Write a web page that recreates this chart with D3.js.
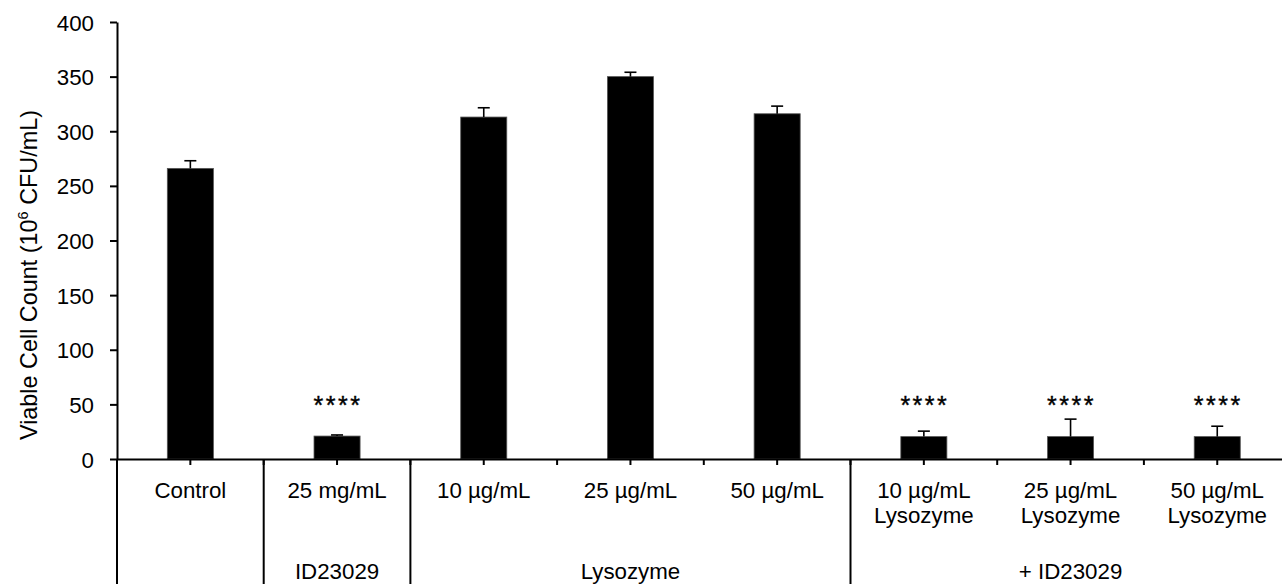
<!DOCTYPE html>
<html>
<head>
<meta charset="utf-8">
<script src="https://cdn.jsdelivr.net/npm/d3@7"></script>
<style>
  html, body { margin: 0; padding: 0; background: #fff; }
  svg { display: block; }
  text { font-family: "Liberation Sans", Arial, sans-serif; fill: #000; }
</style>
</head>
<body>
<svg id="chart" width="1282" height="584"></svg>
<script>
// Treatment categories (two-line labels split on "\n")
const categories = [
  "Control",
  "25 mg/mL",
  "10 µg/mL",
  "25 µg/mL",
  "50 µg/mL",
  "10 µg/mL\nLysozyme",
  "25 µg/mL\nLysozyme",
  "50 µg/mL\nLysozyme"
];
// Mean viable cell count (10^6 CFU/mL) and error (SD)
const means  = [266, 21, 313, 350, 316, 20.5, 20.5, 20.5];
const errors = [7, 1, 8.5, 4, 7, 5, 16, 9.5];
// Significance markers
const stars  = ["", "****", "", "", "", "****", "****", "****"];
// Group row under the category labels
const groupLabels = ["", "ID23029", "Lysozyme", "+ ID23029"];
const groupSpans  = [1, 1, 3, 3];
const yTicks = [0, 50, 100, 150, 200, 250, 300, 350, 400];

const FS = 22.3;
const svg = d3.select("#chart");
const axisX = 117, baseY = 459, topY = 22, bottomY = 584;

const y = d3.scaleLinear().domain([0, 400]).range([baseY, topY]);
const x = d3.scaleBand().domain(categories).range([axisX, 1290.6]).padding(0);
const barW = x.bandwidth() * 0.314;
const cx = c => x(c) + x.bandwidth() / 2;

// Bars
svg.append("g").selectAll("rect")
  .data(categories)
  .join("rect")
  .attr("x", c => cx(c) - barW / 2)
  .attr("width", barW)
  .attr("y", (c, i) => y(means[i]))
  .attr("height", (c, i) => y(0) - y(means[i]))
  .attr("fill", "#000")
  .attr("stroke", "#555")
  .attr("stroke-width", 0.8);

// Error bars (upper whisker only)
const eg = svg.append("g").attr("stroke", "#000").attr("stroke-width", 1.6);
categories.forEach((c, i) => {
  const xc = cx(c), yTop = y(means[i] + errors[i]);
  eg.append("line").attr("x1", xc).attr("x2", xc).attr("y1", y(means[i])).attr("y2", yTop);
  eg.append("line").attr("x1", xc - 6).attr("x2", xc + 6).attr("y1", yTop).attr("y2", yTop);
});

// Significance asterisks
svg.append("g").selectAll("text")
  .data(categories)
  .join("text")
  .attr("x", c => cx(c) + 1)
  .attr("y", y(41.5))
  .attr("text-anchor", "middle")
  .attr("font-size", 25)
  .attr("letter-spacing", 2.5)
  .attr("stroke", "#000")
  .attr("stroke-width", 0.4)
  .text((c, i) => stars[i]);

// Y axis
const yAxis = svg.append("g")
  .attr("transform", `translate(${axisX},0)`)
  .call(d3.axisLeft(y).tickValues(yTicks).tickSize(7).tickSizeOuter(0).tickPadding(16));
yAxis.selectAll("text").attr("font-size", FS).attr("dy", "0.36em")
  .style("font-family", "'Liberation Sans', Arial, sans-serif");
yAxis.selectAll("line, path").attr("stroke", "#000").attr("stroke-width", 2);

// Y axis title
svg.append("text")
  .attr("transform", `translate(37,275) rotate(-90)`)
  .attr("text-anchor", "middle")
  .attr("font-size", 23.4)
  .call(t => {
    t.append("tspan").text("Viable Cell Count (10");
    t.append("tspan").attr("font-size", 14.5).attr("dy", -9).text("6");
    t.append("tspan").attr("dy", 9).text(" CFU/mL)");
  });

// X axis baseline with ticks at category centres
const xAxis = svg.append("g")
  .attr("transform", `translate(0,${baseY})`)
  .call(d3.axisBottom(x).tickSize(6).tickSizeOuter(0).tickFormat(""));
xAxis.selectAll("line, path").attr("stroke", "#000").attr("stroke-width", 2);

// Boundary ticks between neighbouring categories
svg.append("g").selectAll("line")
  .data(categories.slice(1))
  .join("line")
  .attr("x1", c => x(c)).attr("x2", c => x(c))
  .attr("y1", baseY).attr("y2", baseY + 6)
  .attr("stroke", "#000").attr("stroke-width", 2);

// Group separators running down through the label table
let start = 0;
const groups = groupLabels.map((label, i) => {
  const g = { label, first: categories[start], last: categories[start + groupSpans[i] - 1] };
  start += groupSpans[i];
  return g;
});
svg.append("g").selectAll("line")
  .data(groups)
  .join("line")
  .attr("x1", g => x(g.first)).attr("x2", g => x(g.first))
  .attr("y1", baseY).attr("y2", bottomY)
  .attr("stroke", "#000").attr("stroke-width", 2);

// Category labels
const lab = svg.append("g").selectAll("text")
  .data(categories)
  .join("text")
  .attr("x", cx)
  .attr("y", 498)
  .attr("text-anchor", "middle")
  .attr("font-size", FS);
lab.each(function (c) {
  c.split("\n").forEach((line, k) => {
    d3.select(this).append("tspan").attr("x", cx(c)).attr("dy", k === 0 ? 0 : 25).text(line);
  });
});

// Group labels
svg.append("g").selectAll("text")
  .data(groups)
  .join("text")
  .attr("x", g => (x(g.first) + x(g.last) + x.bandwidth()) / 2)
  .attr("y", 579)
  .attr("text-anchor", "middle")
  .attr("font-size", FS)
  .text(g => g.label);
</script>
</body>
</html>
